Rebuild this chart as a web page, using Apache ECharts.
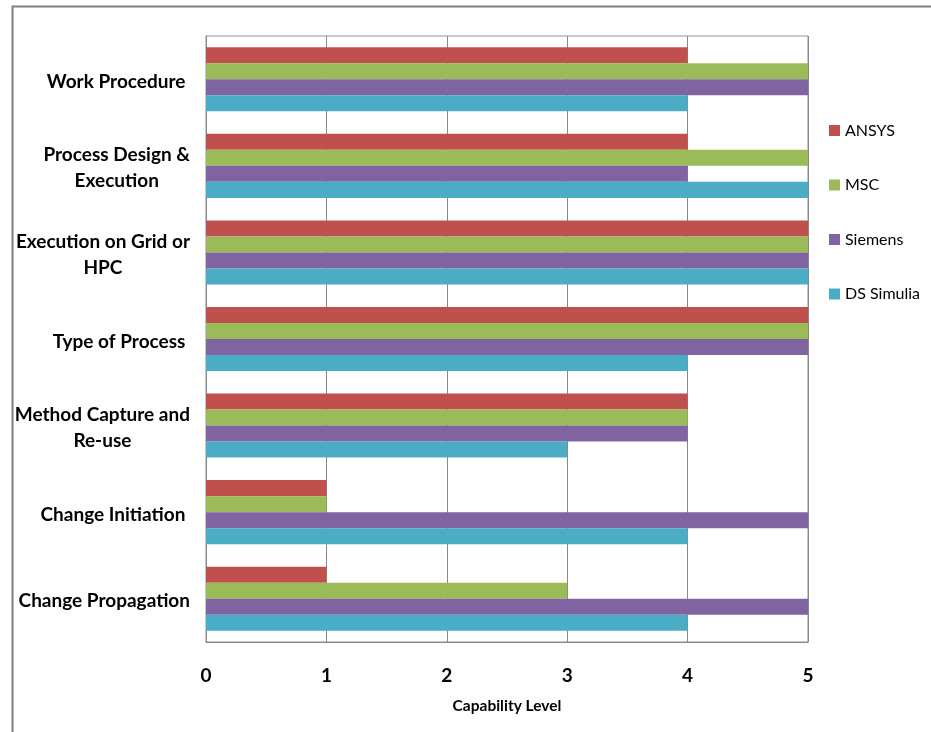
<!DOCTYPE html>
<html><head><meta charset="utf-8">
<script src="https://cdn.jsdelivr.net/npm/echarts@6/dist/echarts.min.js"></script>
<style>html,body{margin:0;padding:0;background:#fff}#c{width:931px;height:732px}</style>
</head><body><div id="c"></div>
<script>
const categories = ["Work Procedure ", "Process Design & Execution", "Execution on Grid or HPC", "Type of Process ", "Method Capture and Re-use", "Change Initiation ", "Change Propagation"];
const labelLines = {
  "Process Design & Execution": ["Process Design &", "Execution"],
  "Execution on Grid or HPC": ["Execution on Grid or", "HPC"],
  "Method Capture and Re-use": ["Method Capture and", "Re-use"]
};
const seriesNames = ["ANSYS", "MSC", "Siemens", "DS Simulia"];
const ansys = [4, 4, 5, 5, 4, 1, 1];
const msc = [5, 5, 5, 5, 4, 1, 3];
const siemens = [5, 4, 5, 5, 4, 5, 5];
const dsSimulia = [4, 5, 5, 4, 3, 4, 4];
const xTicks = [0, 1, 2, 3, 4, 5];
const colors = ["#C0504D", "#9BBB59", "#8064A2", "#4BACC6"];
const values = [ansys, msc, siemens, dsSimulia];

const font = "Lato, 'Open Sans', sans-serif";
const chart = echarts.init(document.getElementById('c'), null, {renderer: 'canvas'});
chart.setOption({
  animation: false,
  color: colors,
  graphic: [{
    type: 'rect', left: 10, top: 4, shape: {x: 0, y: 0, width: 960, height: 800},
    style: {fill: 'none', stroke: '#808080', lineWidth: 2}, silent: true
  }],
  grid: {left: 206, top: 36, width: 602, height: 606, show: true, borderColor: '#8c8ca8', borderWidth: 1, backgroundColor: 'transparent'},
  legend: {
    orient: 'vertical', left: 824, top: 117.5, itemWidth: 11, itemHeight: 11, itemGap: 38.5,
    icon: 'rect', data: seriesNames,
    textStyle: {fontFamily: font, fontSize: 16, lineHeight: 15, color: '#000'}
  },
  xAxis: {
    type: 'value', min: 0, max: 5, interval: 1,
    axisLine: {show: true, lineStyle: {color: '#888', width: 1}},
    axisTick: {show: false},
    splitLine: {show: true, lineStyle: {color: '#888', width: 1}},
    axisLabel: {margin: 24, fontFamily: font, fontWeight: 'bold', fontSize: 19, color: '#000',
      formatter: v => xTicks.includes(v) ? String(v) : ''},
    name: 'Capability Level', nameLocation: 'middle', nameGap: 56,
    nameTextStyle: {fontFamily: font, fontWeight: 'bold', fontSize: 15.5, color: '#000'}
  },
  yAxis: {
    type: 'category', data: categories, inverse: true,
    axisLine: {show: true, lineStyle: {color: '#888'}},
    axisTick: {show: false},
    axisLabel: {
      margin: 16, align: 'right', color: '#000', padding: [5, 0, 0, 0],
      formatter: v => (labelLines[v] || [v]).map(s => '{c|' + s + '}').join('\n'),
      rich: {c: {align: 'center', fontFamily: font, fontWeight: 'bold', fontSize: 19, lineHeight: 26, color: '#000'}}
    }
  },
  series: seriesNames.map((n, i) => ({
    name: n, type: 'bar', data: values[i], barGap: '0%', barCategoryGap: '26%',
    itemStyle: {color: colors[i]}
  }))
});
</script></body></html>
